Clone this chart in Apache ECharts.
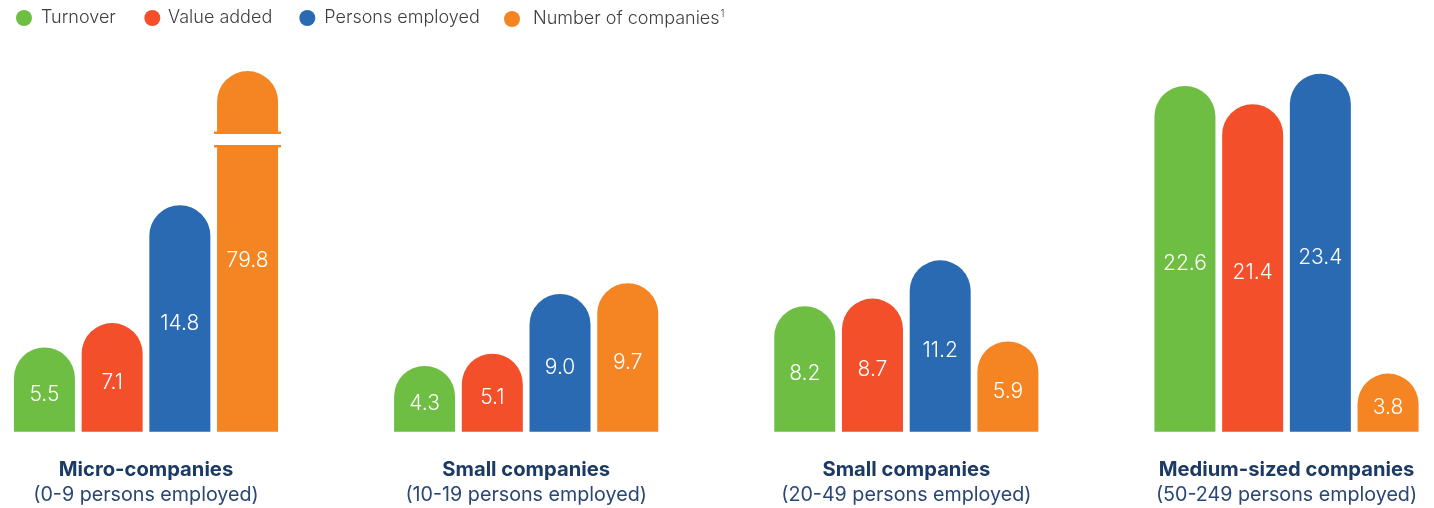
<!DOCTYPE html>
<html>
<head>
<meta charset="utf-8">
<script src="https://cdn.jsdelivr.net/npm/echarts@6/dist/echarts.min.js"></script>
<style>
html,body{margin:0;padding:0;background:#fff;}
#chart{width:1434px;height:508px;}
</style>
</head>
<body>
<div id="chart"></div>
<script>
// ---- data ----
const categories = ['Micro-companies', 'Small companies', 'Small companies', 'Medium-sized companies'];
const subtitles = ['(0-9 persons employed)', '(10-19 persons employed)', '(20-49 persons employed)', '(50-249 persons employed)'];
const seriesNames = ['Turnover', 'Value added', 'Persons employed', 'Number of companies'];
const turnover = [5.5, 4.3, 8.2, 22.6];
const valueAdded = [7.1, 5.1, 8.7, 21.4];
const personsEmployed = [14.8, 9.0, 11.2, 23.4];
const numberOfCompanies = [79.8, 9.7, 5.9, 3.8];
// the 79.8 bar is drawn truncated (broken axis) at this height
const truncatedHeight = 23.57;
const breakRange = [19.46, 18.74]; // upper and lower edge of the white break in data units

const colors = ['#6fbe44', '#f24f2a', '#2a6ab2', '#f58522'];
const FONT = 'Inter, "Noto Sans", sans-serif';
const BAR_W = 61;
const GAP_RATIO = 0.11;

const chart = echarts.init(document.getElementById('chart'), null, {renderer: 'canvas'});

function labelCfg() {
  return {
    show: true,
    position: 'inside',
    color: '#ffffff',
    fontFamily: FONT,
    fontWeight: 300,
    fontSize: 21,
    offset: [0, 5],
    formatter: function (p) {
      const d = p.data;
      const v = (d && typeof d === 'object' && d.real !== undefined) ? d.real : p.value;
      return Number(v).toFixed(1);
    }
  };
}

function makeBar(i, values) {
  return {
    name: seriesNames[i],
    type: 'bar',
    barWidth: BAR_W,
    barGap: (GAP_RATIO * 100) + '%',
    clip: false,
    itemStyle: {color: colors[i], borderRadius: [BAR_W / 2, BAR_W / 2, 0, 0]},
    label: labelCfg(),
    data: values
  };
}

const companiesData = numberOfCompanies.map(function (v) {
  if (v > truncatedHeight) {
    return {value: truncatedHeight, real: v, label: {offset: [0, 9]}};
  }
  return {value: v, real: v};
});

// break marks for truncated bars
const breakData = [];
numberOfCompanies.forEach(function (v, idx) {
  if (v > truncatedHeight) breakData.push([idx, breakRange[0], breakRange[1]]);
});

const breakSeries = {
  type: 'custom',
  name: 'break',
  z: 10,
  silent: true,
  clip: false,
  data: breakData,
  renderItem: function (params, api) {
    const top = api.coord([api.value(0), api.value(1)]);
    const bottom = api.coord([api.value(0), api.value(2)]);
    const gapPx = BAR_W * GAP_RATIO;
    const cx = top[0] + 1.5 * (BAR_W + gapPx);
    const half = BAR_W / 2;
    const ext = 3;
    const lip = 2.5;
    return {
      type: 'group',
      children: [
        {type: 'rect', shape: {x: cx - half - ext - 2, y: top[1], width: BAR_W + 2 * ext + 4, height: bottom[1] - top[1]}, style: {fill: '#ffffff'}},
        {type: 'rect', shape: {x: cx - half - ext, y: top[1] - lip, width: BAR_W + 2 * ext, height: lip}, style: {fill: colors[3]}},
        {type: 'rect', shape: {x: cx - half - ext, y: bottom[1], width: BAR_W + 2 * ext, height: lip}, style: {fill: colors[3]}}
      ]
    };
  }
};

// one legend per item so each can be placed like the reference
const legendCenters = [23, 150, 306.3, 515];
const legendTextStarts = [40, 165.7, 323.3, 536];
const legends = seriesNames.map(function (name, i) {
  const iw = 2 * (legendTextStarts[i] - legendCenters[i] - 5);
  return {
    data: [name],
    left: legendCenters[i] - iw / 2,
    top: 4,
    icon: 'circle',
    itemWidth: iw,
    itemHeight: 16,
    padding: 5,
    textStyle: {
      fontFamily: FONT,
      fontSize: 18,
      fontWeight: 300,
      color: '#3d3d3d',
      rich: {
        sup: {fontSize: 10, fontFamily: FONT, fontWeight: 300, color: '#3d3d3d', verticalAlign: 'top', padding: [0, 0, 10, 1]}
      }
    },
    formatter: function (n) {
      return n === 'Number of companies' ? n + '{sup|1}' : n;
    }
  };
});

const option = {
  animation: false,
  backgroundColor: '#ffffff',
  color: colors,
  legend: legends,
  grid: {left: 146, width: 1140.5, top: 49.2, height: 382.5, containLabel: false},
  xAxis: {
    type: 'category',
    data: categories,
    boundaryGap: false,
    axisLine: {show: false},
    axisTick: {show: false},
    splitLine: {show: false},
    axisLabel: {
      margin: 26,
      interval: 0,
      formatter: function (val, idx) {
        return '{b|' + val + '}\n{r|' + subtitles[idx] + '}';
      },
      rich: {
        b: {fontFamily: FONT, fontSize: 20.2, fontWeight: 'bold', color: '#1b3a66', lineHeight: 25, align: 'center'},
        r: {fontFamily: FONT, fontSize: 19.7, fontWeight: 400, color: '#2a4673', lineHeight: 25, align: 'center'}
      }
    }
  },
  yAxis: {
    type: 'value',
    min: 0,
    max: 25,
    show: false,
    splitLine: {show: false}
  },
  series: [
    makeBar(0, turnover),
    makeBar(1, valueAdded),
    makeBar(2, personsEmployed),
    makeBar(3, companiesData),
    breakSeries
  ]
};

chart.setOption(option);
</script>
</body>
</html>
